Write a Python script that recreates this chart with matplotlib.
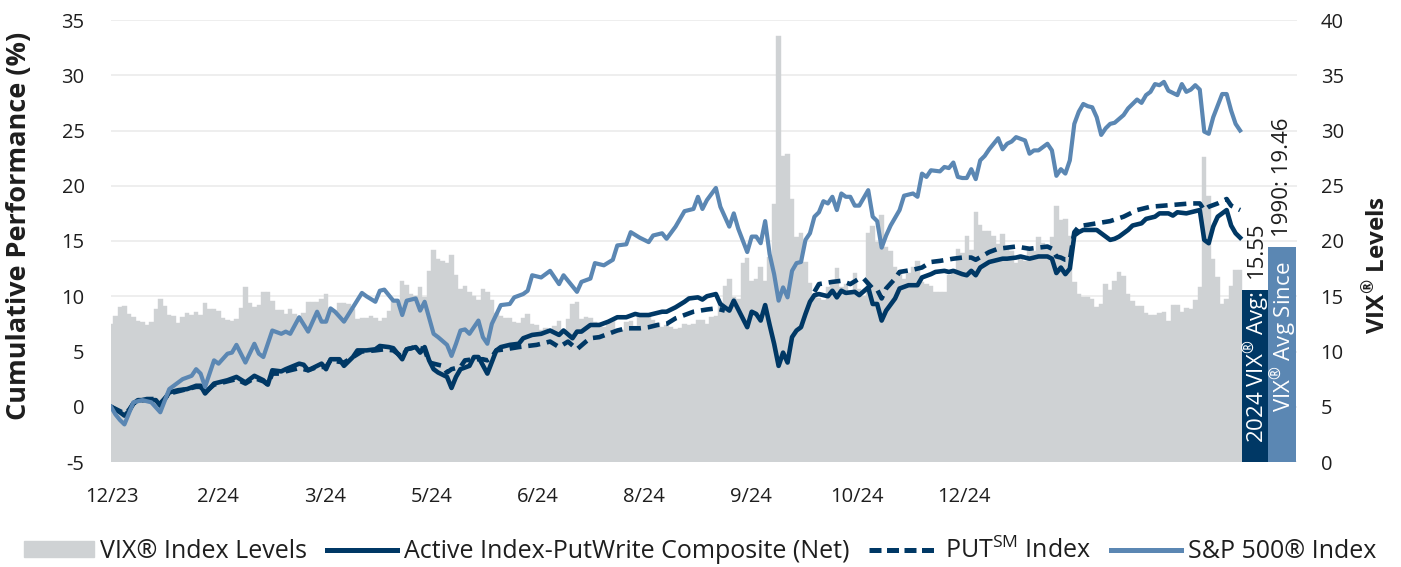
import numpy as np
import matplotlib
matplotlib.use("Agg")
import matplotlib.pyplot as plt
from matplotlib.patches import Patch
from matplotlib.lines import Line2D

plt.rcParams["font.family"] = ["Open Sans", "DejaVu Sans"]
plt.rcParams["mathtext.fontset"] = "custom"
plt.rcParams["mathtext.rm"] = "Open Sans"
plt.rcParams["mathtext.bf"] = "Open Sans:bold"
plt.rcParams["axes.unicode_minus"] = False

# daily VIX closes, 12/29/23 then every trading day of 2024
vix_dec23 = [12.45]
vix_jan = [13.20, 14.04, 14.13, 13.35, 13.08, 12.76, 12.69, 12.44, 12.70, 13.84, 14.79, 14.13, 13.30, 13.19,
           12.55, 13.14, 13.45, 13.26, 13.60, 13.31, 14.35]
vix_feb = [13.88, 13.85, 13.67, 13.06, 12.83, 12.79, 12.93, 13.93, 15.85, 14.38, 14.01, 14.24, 15.42, 15.34,
           14.54, 13.75, 13.74, 13.43, 13.84, 13.40]
vix_mar = [13.11, 13.49, 14.46, 14.50, 14.44, 14.74, 15.23, 13.60, 13.60, 14.40, 14.41, 14.33, 13.82, 12.92,
           13.06, 13.06, 13.19, 12.99, 12.78, 13.01]
vix_apr = [13.65, 14.61, 14.33, 16.35, 16.03, 15.19, 14.98, 15.80, 14.91, 17.31, 19.23, 18.40, 18.21, 18.00,
           18.71, 16.94, 15.69, 15.97, 15.37, 15.03, 14.67, 15.65]
vix_may = [15.39, 14.68, 13.49, 13.23, 13.00, 13.00, 12.69, 12.55, 12.99, 13.42, 12.45, 12.42, 11.99, 12.15,
           11.86, 12.29, 12.77, 11.93, 12.92, 14.28, 14.47, 12.92]
vix_jun = [13.11, 13.06, 12.63, 12.58, 12.22, 12.74, 12.85, 12.04, 11.94, 12.66, 12.75, 12.30, 13.28, 13.20,
           13.33, 12.84, 12.55, 12.24, 12.44]
vix_jul = [12.22, 12.03, 12.09, 12.48, 12.37, 12.51, 12.85, 12.85, 12.46, 13.12, 13.19, 14.48, 15.93, 16.52,
           14.91, 14.72, 18.04, 18.46, 16.39, 16.60, 17.69, 16.36]
vix_aug = [18.59, 23.39, 38.57, 27.71, 27.85, 23.79, 20.37, 20.71, 18.12, 16.19, 15.23, 14.80, 14.65, 15.88,
           16.27, 17.55, 15.86, 16.15, 15.43, 17.11, 15.65, 15.00]
vix_sep = [20.72, 21.32, 19.90, 22.38, 19.45, 19.08, 17.69, 17.07, 16.56, 17.14, 17.61, 18.23, 16.33, 16.15,
           15.89, 15.39, 15.41, 15.37, 16.96, 17.40]
vix_oct = [19.26, 18.90, 20.49, 19.21, 22.64, 21.42, 20.86, 20.93, 20.46, 19.70, 20.64, 19.58, 19.11, 18.03,
           18.37, 18.20, 19.24, 19.08, 20.33, 19.80, 19.34, 20.35, 23.16]
vix_nov = [21.88, 21.98, 20.49, 16.27, 15.20, 14.94, 14.97, 14.71, 14.02, 14.31, 16.14, 15.58, 16.35, 17.16,
           16.87, 15.24, 14.60, 14.10, 14.10, 13.51]
vix_dec = [13.34, 13.30, 13.45, 13.54, 12.77, 14.19, 14.18, 13.58, 13.92, 13.81, 14.69, 15.87, 27.62, 24.09,
           18.36, 16.78, 14.27, 14.73, 15.95, 17.40, 17.35]

vix_avg_2024 = 15.55
vix_avg_since_1990 = 19.46

# cumulative performance (%) read at trading-day numbers
sp_days = [0, 1, 2, 3, 4, 5, 7, 9, 11, 13, 15, 16, 18, 19, 20, 21, 23, 24, 26, 27, 28, 30, 32, 33, 34, 36, 38,
           39, 40, 42, 44, 46, 47, 48, 49, 50, 52, 54, 56, 57, 59, 60, 61, 63, 64, 65, 66, 68, 69, 70, 72, 73, 75,
           76, 77, 78, 79, 80, 82, 83, 84, 85, 87, 89, 90, 92, 93, 94, 96, 98, 99, 100, 101, 103, 104, 105, 107,
           108, 110, 112, 113, 115, 116, 118, 120, 121, 123, 124, 126, 128, 130, 131, 132, 133, 135, 136, 138,
           139, 140, 142, 143, 144, 145, 146, 147, 148, 149, 150, 151, 152, 153, 154, 155, 156, 157, 158, 159,
           160, 161, 162, 163, 164, 165, 166, 167, 169, 170, 171, 172, 173, 174, 176, 177, 179, 180, 181, 182,
           183, 185, 186, 187, 188, 189, 190, 191, 192, 193, 194, 195, 196, 198, 199, 200, 201, 202, 204, 205,
           206, 207, 209, 210, 211, 212, 213, 214, 215, 216, 217, 218, 219, 220, 221, 222, 223, 224, 226, 227,
           229, 230, 231, 232, 233, 234, 235, 236, 238, 239, 240, 241, 242, 243, 244, 245, 246, 248, 249, 250,
           251, 252]
sp_perf = [0.0, -0.7, -1.2, -1.6, -0.6, 0.4, 0.6, 0.4, -0.5, 1.6, 2.2, 2.5, 2.8, 3.4, 3.0, 1.8, 4.2, 3.9, 4.8,
           4.9, 5.6, 4.0, 5.7, 4.8, 4.5, 6.9, 6.6, 6.8, 6.6, 8.1, 6.8, 8.6, 7.7, 7.7, 8.9, 8.6, 7.7, 9.0, 10.3,
           10.0, 9.5, 10.5, 10.6, 9.6, 9.6, 8.3, 9.6, 9.8, 8.7, 9.5, 6.6, 6.3, 5.6, 4.6, 5.7, 6.9, 7.0, 6.6, 7.8,
           6.3, 5.7, 7.5, 9.2, 9.3, 9.9, 10.2, 10.5, 11.9, 11.7, 12.3, 11.7, 11.1, 11.9, 10.9, 10.4, 11.3, 11.6,
           13.0, 12.8, 13.3, 14.6, 14.7, 15.8, 15.3, 14.9, 15.5, 15.7, 15.2, 16.3, 17.7, 17.9, 19.0, 17.9, 18.7,
           19.8, 18.1, 16.3, 17.5, 16.1, 14.0, 15.4, 15.4, 14.8, 16.8, 13.8, 12.0, 9.6, 10.8, 9.9, 12.3, 13.0,
           13.1, 15.1, 15.7, 17.2, 17.6, 18.6, 18.4, 19.0, 17.8, 19.3, 19.0, 19.0, 18.2, 18.2, 19.6, 17.2, 16.8,
           14.4, 15.5, 16.4, 17.8, 19.1, 19.3, 19.0, 21.1, 20.8, 21.4, 21.3, 21.7, 21.6, 22.1, 20.8, 20.7, 20.7,
           21.5, 20.6, 22.3, 22.7, 23.3, 24.3, 23.3, 23.8, 24.0, 24.4, 24.1, 22.9, 23.2, 23.2, 23.8, 23.2, 20.9,
           21.5, 21.1, 22.3, 25.6, 26.7, 27.4, 27.2, 27.1, 26.2, 24.6, 25.2, 25.6, 25.7, 26.4, 27.0, 27.8, 27.5,
           28.2, 28.5, 29.2, 29.1, 29.4, 28.6, 28.2, 29.2, 28.5, 28.7, 29.1, 28.7, 24.9, 24.7, 26.2, 28.3, 28.3,
           26.8, 25.6, 25.0]

active_days = [0, 2, 3, 4, 5, 6, 8, 10, 11, 13, 15, 17, 19, 20, 21, 23, 26, 28, 30, 32, 34, 35, 36, 38, 39, 42,
               43, 44, 46, 47, 48, 49, 51, 52, 54, 55, 57, 59, 60, 62, 63, 65, 66, 68, 69, 70, 71, 72, 73, 75, 76,
               77, 78, 80, 81, 82, 84, 86, 87, 89, 91, 92, 94, 96, 98, 100, 101, 103, 104, 105, 107, 109, 111, 113,
               115, 117, 118, 120, 121, 123, 124, 126, 128, 129, 131, 132, 133, 135, 136, 138, 139, 141, 142, 143,
               144, 145, 146, 147, 148, 149, 150, 151, 152, 153, 154, 155, 156, 157, 158, 160, 161, 162, 163, 164,
               166, 167, 169, 170, 171, 172, 173, 175, 176, 178, 180, 181, 183, 184, 186, 187, 188, 190, 191, 192,
               193, 194, 196, 197, 199, 200, 202, 203, 205, 206, 207, 209, 210, 211, 212, 213, 214, 215, 216, 217,
               219, 220, 222, 223, 224, 225, 227, 228, 230, 231, 233, 234, 236, 237, 238, 240, 241, 243, 244, 245,
               246, 247, 249, 250, 251, 252]
active_perf = [0.0, -0.5, -0.8, -0.4, 0.3, 0.6, 0.6, 0.6, 0.1, 1.3, 1.5, 1.6, 1.9, 1.9, 1.2, 2.1, 2.4, 2.7,
               2.2, 2.8, 2.4, 2.0, 3.3, 3.2, 3.4, 3.9, 3.8, 3.3, 3.7, 3.9, 3.4, 4.3, 4.3, 3.7, 4.5, 5.1, 5.1,
               5.2, 5.5, 5.4, 5.3, 4.3, 5.2, 5.4, 4.9, 5.4, 4.2, 3.4, 3.1, 2.7, 1.7, 2.7, 3.4, 3.7, 4.5, 4.5,
               3.0, 5.1, 5.4, 5.6, 5.7, 6.2, 6.5, 6.6, 6.9, 6.5, 6.9, 6.2, 6.8, 6.8, 7.4, 7.4, 7.7, 8.1, 8.1,
               8.4, 8.3, 8.3, 8.4, 8.6, 8.6, 9.0, 9.5, 9.8, 9.9, 9.7, 10.0, 10.2, 9.3, 8.7, 9.6, 8.0, 7.2, 8.6,
               8.4, 7.8, 9.2, 7.4, 5.7, 3.7, 4.9, 4.0, 6.3, 6.9, 7.2, 8.4, 9.5, 10.1, 10.2, 10.0, 10.5, 9.9,
               10.5, 10.3, 10.4, 10.1, 10.8, 9.3, 9.3, 7.8, 8.7, 9.8, 10.7, 11.0, 11.0, 11.7, 12.0, 12.2, 12.3,
               12.2, 12.3, 12.0, 11.9, 12.3, 11.9, 12.6, 13.1, 13.2, 13.4, 13.4, 13.5, 13.6, 13.4, 13.5, 13.6,
               13.6, 13.4, 12.1, 12.6, 12.0, 12.5, 15.5, 15.8, 16.0, 16.0, 16.0, 15.4, 15.1, 15.2, 15.4, 16.0,
               16.4, 16.6, 17.0, 17.2, 17.5, 17.5, 17.3, 17.6, 17.5, 17.6, 17.8, 15.1, 14.8, 16.3, 17.2, 17.8,
               16.4, 15.7, 15.3]

# PUT index is hidden under the composite line through the August drawdown
put_days = [0, 2, 3, 4, 5, 6, 8, 10, 11, 13, 15, 17, 19, 20, 21, 23, 26, 28, 30, 32, 34, 35, 36, 38, 39, 42, 44,
            46, 48, 49, 52, 54, 56, 59, 61, 63, 65, 66, 68, 70, 71, 72, 74, 75, 76, 78, 79, 81, 83, 84, 85, 86,
            88, 91, 95, 98, 100, 102, 104, 106, 107, 109, 111, 113, 115, 118, 120, 122, 124, 126, 128, 130, 133,
            135, 137, 147, 157, 158, 161, 163, 165, 167, 168, 170, 171, 172, 173, 175, 176, 179, 181, 183, 185,
            188, 190, 192, 193, 196, 198, 200, 202, 205, 207, 209, 210, 211, 212, 213, 214, 215, 216, 217, 220,
            223, 226, 229, 232, 235, 238, 241, 243, 244, 245, 247, 249, 250, 252]
put_perf = [0.0, -0.4, -0.6, -0.3, 0.3, 0.5, 0.7, 0.7, 0.3, 1.2, 1.4, 1.6, 1.8, 1.8, 1.3, 2.0, 2.3, 2.5, 2.1,
            2.6, 2.3, 2.0, 3.0, 3.0, 3.2, 3.5, 3.3, 3.6, 3.6, 4.2, 4.0, 4.5, 5.0, 5.1, 5.2, 5.1, 4.5, 5.2, 5.4,
            5.2, 4.0, 3.9, 3.7, 3.1, 3.4, 3.6, 4.2, 4.3, 4.3, 4.2, 4.5, 5.1, 5.2, 5.4, 5.6, 5.9, 5.4, 5.9, 5.2,
            5.9, 6.2, 6.3, 6.6, 6.9, 7.1, 7.1, 7.2, 7.4, 7.5, 8.0, 8.3, 8.6, 8.8, 8.9, 8.7, np.nan, 10.4, 11.1,
            11.3, 11.4, 11.1, 11.6, 11.6, 10.7, 10.6, 9.8, 10.7, 11.6, 12.2, 12.4, 12.6, 13.1, 13.2, 13.4, 13.5,
            13.5, 13.3, 14.0, 14.3, 14.4, 14.5, 14.3, 14.4, 14.5, 14.3, 13.6, 13.5, 13.3, 13.3, 15.8, 16.3, 16.4,
            16.6, 16.8, 17.2, 17.8, 18.1, 18.2, 18.3, 18.4, 18.4, 17.8, 18.1, 18.4, 18.8, 18.2, 17.8]

tick_labels = ["12/23", "2/24", "3/24", "5/24", "6/24", "8/24", "9/24", "10/24", "12/24"]

navy = "#003865"
steel = "#5b87b3"
vix_grey = "#cfd2d4"
text_col = "#1e1e1e"

vix = np.array(vix_dec23 + vix_jan + vix_feb + vix_mar + vix_apr + vix_may + vix_jun + vix_jul + vix_aug
               + vix_sep + vix_oct + vix_nov + vix_dec)
days = np.arange(len(vix))

fig = plt.figure(figsize=(14.01, 5.67), dpi=100)
ax = fig.add_axes([111 / 1401, 1 - 462 / 567, (1297 - 111) / 1401, 442 / 567])
ax2 = ax.twinx()

# VIX bars on the right-hand scale
ax.bar(days, vix, width=1.0, color=vix_grey, edgecolor=vix_grey, linewidth=0.3, zorder=2)
ax.set_ylim(0, 40)
ax.set_yticks(np.arange(0, 41, 5))
ax.yaxis.tick_right()
ax.yaxis.set_label_position("right")
ax.set_axisbelow(True)
ax.yaxis.grid(True, color="#ebebeb", linewidth=1.2)
ax.set_ylabel(r"VIX$^{\mathbf{®}}$ Levels", fontsize=17.5, fontweight="bold", color=text_col)
ax.yaxis.set_label_coords(1.056, 0.446)

# average bars: label runs up inside the bar in white, the value sits above it
n = len(vix)
avg_pos = [n + 2.4, n + 8.4]
avg_w = [5.8, 6.2]
avg_vals = [vix_avg_2024, vix_avg_since_1990]
avg_cols = [navy, steel]
avg_inside = [r"2024 VIX$^{®}$ Avg:", r"VIX$^{®}$ Avg Since"]
avg_outside = ["%.2f" % vix_avg_2024, "1990: %.2f" % vix_avg_since_1990]
avg_start = [1.7, 4.5]
avg_out_start = [16.65, 20.35]
for xc, w, v, c, t_in, t_out, y0, y1 in zip(avg_pos, avg_w, avg_vals, avg_cols, avg_inside, avg_outside,
                                            avg_start, avg_out_start):
    ax.bar(xc, v, width=w, color=c, linewidth=0, zorder=3)
    ax.text(xc + 0.15, y0, t_in, rotation=90, ha="center", va="bottom", fontsize=16, color="white", zorder=4)
    ax.text(xc + 0.15, y1, t_out, rotation=90, ha="center", va="bottom", fontsize=16, color=text_col, zorder=4)

# performance lines on the left-hand scale
ax2.plot(put_days, put_perf, color=navy, lw=3.3, linestyle=(0, (2.6, 1.5)), zorder=3)
ax2.plot(active_days, active_perf, color=navy, lw=3.3, zorder=4, solid_joinstyle="round")
ax2.plot(sp_days, sp_perf, color=steel, lw=3.0, zorder=5, solid_joinstyle="round")
ax2.set_ylim(-5, 35)
ax2.set_yticks(np.arange(-5, 36, 5))
ax2.yaxis.tick_left()
ax2.yaxis.set_label_position("left")
ax2.set_ylabel("Cumulative Performance (%)", fontsize=19.5, fontweight="bold", color=text_col)
ax2.yaxis.set_label_coords(-0.067, 0.534)

ax.set_xlim(0, 264.7)
ax.set_xticks(np.arange(len(tick_labels)) * 23.76 + 0.2)
ax.set_xticklabels(tick_labels)

for a in (ax, ax2):
    for s in a.spines.values():
        s.set_visible(False)
    a.tick_params(length=0, labelsize=14.5, colors=text_col)
ax.tick_params(axis="x", pad=18)
ax.tick_params(axis="y", pad=17)
ax2.tick_params(axis="y", pad=19)

handles = [Patch(color=vix_grey),
           Line2D([], [], color=navy, lw=3.6),
           Line2D([], [], color=navy, lw=3.6, linestyle=(0, (2.4, 1.1))),
           Line2D([], [], color=steel, lw=3.6)]
labels = ["VIX® Index Levels", "Active Index-PutWrite Composite (Net)", r"PUT$^{\mathrm{SM}}$ Index",
          "S&P 500® Index"]
fig.legend(handles, labels, loc="center", bbox_to_anchor=(0.4997, 1 - 551 / 567), ncol=4, frameon=False,
           fontsize=18, handlelength=2.8, handleheight=0.6, handletextpad=0.25, columnspacing=0.8,
           labelcolor=text_col)

fig.savefig("out.png", dpi=100)
